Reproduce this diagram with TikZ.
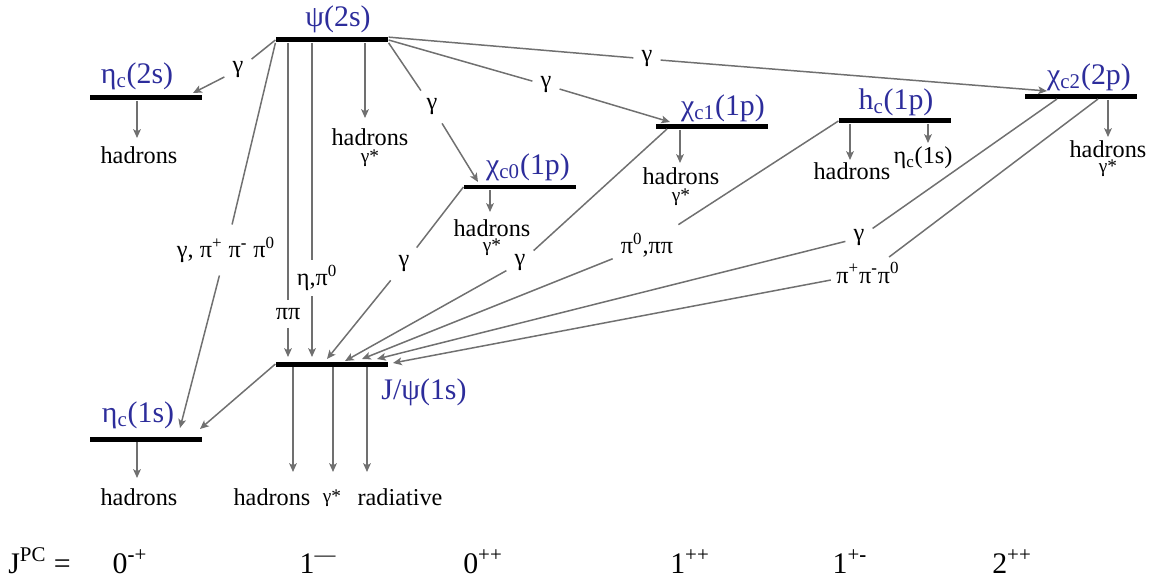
\documentclass[tikz,border=0pt]{standalone}
\usepackage{fontspec}
\setmainfont{Liberation Serif}
\usetikzlibrary{arrows.meta,calc}
\definecolor{lvlblue}{RGB}{45,45,155}
\definecolor{lgray}{RGB}{112,112,112}
\begin{document}
\begin{tikzpicture}[x=0.02cm,y=-0.02cm,
  bar/.style={fill=black,draw=none,inner sep=0pt,minimum width=2.25cm,minimum height=0.1cm},
  lvl/.style={text=lvlblue,font=\fontsize{17}{20}\selectfont,inner sep=0pt},
  txt/.style={font=\fontsize{13.8}{15}\selectfont,inner sep=0pt},
  gstar/.style={font=\fontsize{11}{12}\selectfont,inner sep=0pt},
  lab/.style={font=\fontsize{13.8}{15}\selectfont,inner sep=4.5pt},
  jpc/.style={font=\fontsize{17}{20}\selectfont,inner sep=0pt,anchor=base},
  ln/.style={draw=lgray,line width=0.85pt},
  arr/.style={draw=lgray,line width=0.85pt,-{Stealth[length=5pt,width=4.4pt,inset=1.2pt,fill=lgray]}}]
\useasboundingbox (0,0) rectangle (1164,581);

% ---- levels ----
\node[bar] (psi2s)  at (332,40)  {};
\node[bar] (etac2s) at (146,98)  {};
\node[bar] (chic0)  at (520,187) {};
\node[bar] (chic1)  at (712,127) {};
\node[bar] (hc)     at (895,121) {};
\node[bar] (chic2)  at (1081,97) {};
\node[bar] (jpsi)   at (332,364) {};
\node[bar] (etac1s) at (146,439) {};

\node[lvl] (Lpsi2s)  at (338,19)  {ψ(2s)};
\node[lvl] (Letac2s) at (137,76)  {η\textsubscript{c}(2s)};
\node[lvl] (Lchic0)  at (528,167) {χ\textsubscript{c0}(1p)};
\node[lvl] (Lchic1)  at (723,108) {χ\textsubscript{c1}(1p)};
\node[lvl] (Lhc)     at (896,102) {h\textsubscript{c}(1p)};
\node[lvl] (Lchic2)  at (1089,77) {χ\textsubscript{c2}(2p)};
\node[lvl] (Ljpsi)   at (424,392) {J/ψ(1s)};
\node[lvl] (Letac1s) at (138,415) {η\textsubscript{c}(1s)};

% ---- decay products ----
\node[txt] (h1) at (139,155) {hadrons};
\node[txt] (h2) at (370,137) {hadrons};
\node[gstar] (g2) at (370,158) {γ*};
\node[txt] (h3) at (492,228) {hadrons};
\node[gstar] (g3) at (492,247) {γ*};
\node[txt] (h4) at (681,176) {hadrons};
\node[gstar] (g4) at (681,197) {γ*};
\node[txt] (h5) at (852,171) {hadrons};
\node[txt] (e5) at (923,158) {η\textsubscript{c}(1s)};
\node[txt] (h6) at (1108,149) {hadrons};
\node[gstar] (g6) at (1108,168) {γ*};
\node[txt] (h7) at (139,497) {hadrons};
\node[txt] (h8) at (272,497) {hadrons};
\node[gstar] (g8) at (332,498) {γ*};
\node[txt] (r8) at (400,497) {radiative};

\coordinate (d1) at (137,138);
\coordinate (d2) at (365,118);
\coordinate (d3) at (490,212);
\coordinate (d4) at (680,163);
\coordinate (d5) at (850,160);
\coordinate (d5b) at (928,143);
\coordinate (d6) at (1108,137);
\coordinate (d7) at (137,478);
\coordinate (d8) at (293,472);
\coordinate (d8b) at (333,472);
\coordinate (d8c) at (367,472);
\draw[arr] (etac2s.south -| d1) -- (d1);
\draw[arr] (psi2s.south -| d2) -- (d2);
\draw[arr] (chic0.south -| d3) -- (d3);
\draw[arr] (chic1.south -| d4) -- (d4);
\draw[arr] (hc.south -| d5) -- (d5);
\draw[arr] (hc.south -| d5b) -- (d5b);
\draw[arr] (chic2.south -| d6) -- (d6);
\draw[arr] (etac1s.south -| d7) -- (d7);
\draw[arr] (jpsi.south -| d8) -- (d8);
\draw[arr] (jpsi.south -| d8b) -- (d8b);
\draw[arr] (jpsi.south -| d8c) -- (d8c);

% ---- transitions ----
% psi(2s) -> eta_c(2s)
\node[lab] (t1) at (238,70) {γ};
\coordinate (e1) at (193,93);
\draw[ln] (psi2s.west) -- (t1);
\draw[arr] (t1) -- (e1);
% psi(2s) -> eta_c(1s)
\node[lab,inner ysep=7pt] (t2) at (226,250) {γ, π\textsuperscript{+} π\textsuperscript{\textbf{-}} π\textsuperscript{0}};
\coordinate (e2) at (180,428);
\draw[ln] (psi2s.south west) -- (t2);
\draw[arr] (t2) -- (e2);
% psi(2s) -> J/psi (pi pi)
\coordinate (s3) at (288,42);
\node[lab] (t3) at (288,314) {ππ};
\coordinate (e3) at (288,357);
\draw[ln] (psi2s.south -| s3) -- (t3);
\draw[arr] (t3) -- (e3);
% psi(2s) -> J/psi (eta, pi0)
\coordinate (s4) at (312,42);
\node[lab,inner sep=3pt] (t4) at (317,278) {η,π\textsuperscript{0}};
\coordinate (e4) at (312,357);
\draw[ln] (psi2s.south -| s4) -- (s4 |- t4.north);
\draw[arr] (s4 |- t4.south) -- (e4);
% psi(2s) -> chi_c0
\node[lab] (t5) at (432,107) {γ};
\coordinate (e5) at (478,182);
\draw[ln] (psi2s.south east) -- (t5);
\draw[arr] (t5) -- (e5);
% psi(2s) -> chi_c1
\node[lab] (t6) at (546,85) {γ};
\coordinate (e6) at (670,122);
\draw[ln] (psi2s.east) -- (t6);
\draw[arr] (t6) -- (e6);
% psi(2s) -> chi_c2
\node[lab] (t7) at (647,59) {γ};
\coordinate (e7) at (1047,91);
\draw[ln] (psi2s.north east) -- (t7);
\draw[arr] (t7) -- (e7);
% chi_c0 -> J/psi
\node[lab] (t8) at (404,264) {γ};
\coordinate (e8) at (327,359);
\draw[ln] (chic0.west) -- (t8);
\draw[arr] (t8) -- (e8);
% chi_c1 -> J/psi
\coordinate (s9) at (667,129);
\node[lab] (t9) at (520,263) {γ};
\coordinate (e9) at (345,361);
\draw[ln] (s9) -- (t9);
\draw[arr] (t9) -- (e9);
% h_c -> J/psi
\node[lab] (t10) at (647,245) {π\textsuperscript{0},ππ};
\coordinate (e10) at (362,359);
\draw[ln] (hc.west) -- (t10);
\draw[arr] (t10) -- (e10);
% chi_c2 -> J/psi (gamma)
\coordinate (s11) at (1057,99);
\node[lab] (t11) at (859,238) {γ};
\coordinate (e11) at (377,359);
\draw[ln] (s11) -- (t11);
\draw[arr] (t11) -- (e11);
% chi_c2 -> J/psi (pi pi pi)
\coordinate (s12) at (1098,99);
\node[lab,inner sep=3pt] (t12) at (868,273) {π\textsuperscript{+}π\textsuperscript{\textbf{-}}π\textsuperscript{0}};
\coordinate (e12) at (393,363);
\draw[ln] (s12) -- (t12);
\draw[arr] (t12) -- (e12);
% J/psi -> eta_c(1s)
\coordinate (e13) at (200,429);
\draw[arr] (jpsi.west) -- (e13);

% ---- J^PC row ----
\node[jpc,anchor=base west] (jpclab) at (8,573) {J\textsuperscript{PC} =};
\node[jpc] (q1) at (130,573) {0\textsuperscript{\textbf{-}+}};
\node[jpc] (q2) at (318,573) {1\textsuperscript{—}};
\node[jpc] (q3) at (483,573) {0\textsuperscript{++}};
\node[jpc] (q4) at (690,573) {1\textsuperscript{++}};
\node[jpc] (q5) at (850,573) {1\textsuperscript{+\textbf{-}}};
\node[jpc] (q6) at (1012,573) {2\textsuperscript{++}};
\end{tikzpicture}
\end{document}
